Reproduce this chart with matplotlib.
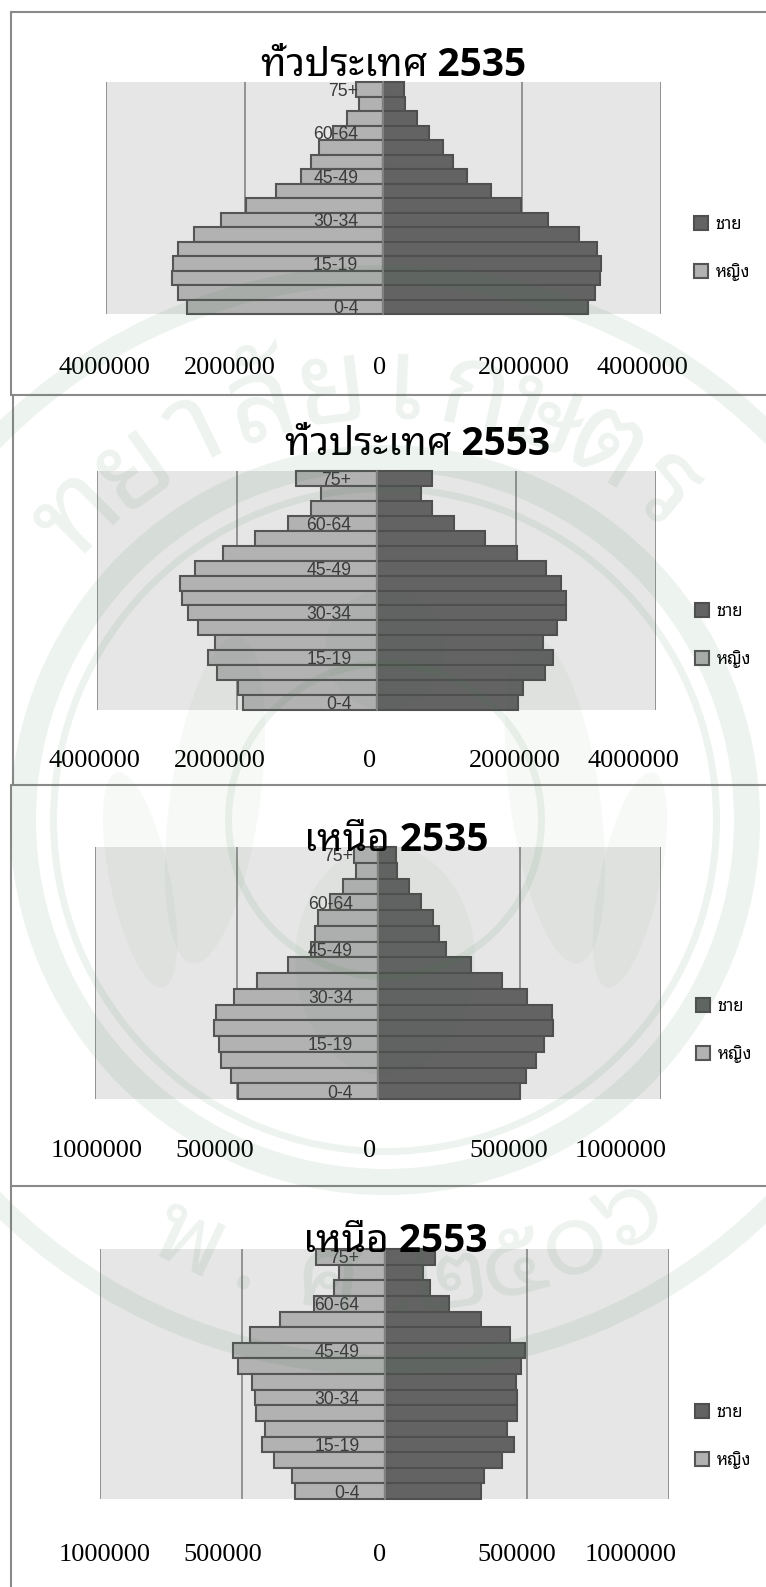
import numpy as np
import matplotlib
matplotlib.use('Agg')
import matplotlib.pyplot as plt
from matplotlib.patches import Wedge, Ellipse

W, H = 766, 1587

ages = ['75+', '70-74', '65-69', '60-64', '55-59', '50-54', '45-49', '40-44',
        '35-39', '30-34', '25-29', '20-24', '15-19', '10-14', '5-9', '0-4']
age_ticks = ['75+', '60-64', '45-49', '30-34', '15-19', '0-4']

th35_f = [395000, 353000, 522000, 720000, 924000, 1037000, 1192000, 1545000,
          1975000, 2335000, 2730000, 2963000, 3034000, 3048000, 2963000, 2829000]
th35_m = [296000, 310000, 480000, 663000, 861000, 1009000, 1206000, 1552000,
          1982000, 2370000, 2822000, 3083000, 3139000, 3132000, 3062000, 2956000]
th53_f = [1154000, 797000, 937000, 1266000, 1741000, 2203000, 2594000, 2811000,
          2783000, 2699000, 2552000, 2308000, 2406000, 2280000, 1979000, 1916000]
th53_m = [790000, 636000, 790000, 1105000, 1552000, 2014000, 2420000, 2643000,
          2713000, 2706000, 2587000, 2385000, 2531000, 2413000, 2098000, 2028000]
n35_f = [84600, 79400, 122600, 171000, 212400, 221000, 238300, 319500,
         428300, 507700, 571600, 580300, 561300, 556100, 518100, 493900]
n35_m = [63900, 67400, 110500, 153700, 195200, 214100, 241800, 328100,
         436900, 526700, 613100, 618300, 585500, 557800, 523300, 502600]
n53_f = [240500, 159800, 178700, 247400, 365900, 474200, 530900, 515400,
         467300, 455300, 450100, 419200, 431200, 388300, 326400, 314400]
n53_m = [177000, 135700, 161500, 225100, 340200, 441500, 493100, 481000,
         463900, 465600, 465600, 431200, 453600, 412300, 350500, 338400]

titles = ['ทั่วประเทศ 2535', 'ทั่วประเทศ 2553', 'เหนือ 2535', 'เหนือ 2553']
xlabels_big = ['4000000', '2000000', '0', '2000000', '4000000']
xlabels_small = ['1000000', '500000', '0', '500000', '1000000']

seal_top = ['ท', 'ย', 'า', 'ลั', 'ย', 'เ', 'ก', 'ษ', 'ต', 'ร']
seal_bottom = ['พ', '.', 'ศ', '.', '๒', '๕', '๐', '๖']

plt.rcParams['font.family'] = ['Open Sans', 'Noto Sans Thai Looped', 'DejaVu Sans']

fig = plt.figure(figsize=(W / 100, H / 100), dpi=100, facecolor='white')


def fx(x):
    return x / W


def fy(y):
    return 1 - y / H


def pyramid(box, xmax, female, male, labels, label_x, label_y, title, title_x, title_y, legend_x, legend_y):
    x0, x1, y0, y1 = box
    ax = fig.add_axes([fx(x0), fy(y1), (x1 - x0) / W, (y1 - y0) / H], facecolor='#e6e6e6')
    y = np.arange(len(ages))
    ax.barh(y, [-v for v in female], height=1, color='#b2b2b2', edgecolor='#555555', linewidth=1.5,
            label='หญิง', zorder=2, clip_on=False)
    ax.barh(y, male, height=1, color='#636363', edgecolor='#4f4f4f', linewidth=1.5,
            label='ชาย', zorder=2, clip_on=False)
    ax.set_xlim(-xmax, xmax)
    ax.set_ylim(len(ages) - 0.5, -0.5)
    ax.set_xticks([-xmax, -xmax / 2, xmax / 2, xmax])
    ax.tick_params(axis='x', length=0, labelbottom=False)
    ax.grid(axis='x', color='#8c8c8c', linewidth=1.3, zorder=1)
    ax.set_axisbelow(True)
    ax.yaxis.set_zorder(3)
    for s in ['top', 'right', 'bottom']:
        ax.spines[s].set_visible(False)
    ax.spines['left'].set_position('zero')
    ax.spines['left'].set_color('#8a8a8a')
    ax.spines['left'].set_linewidth(1.2)
    ax.spines['left'].set_zorder(3)
    ticks = [ages.index(a) for a in age_ticks]
    ax.set_yticks(ticks, age_ticks, family='Liberation Sans', fontsize=12.7, color='#3a3a3a')
    ax.tick_params(axis='y', length=0, pad=18)

    for lab, lx in zip(labels, label_x):
        fig.text(fx(lx), fy(label_y), lab, ha='center', va='center', family='Liberation Serif',
                 fontsize=18.9, color='black')
    fig.text(fx(title_x), fy(title_y), title, ha='center', va='baseline', fontweight='bold',
             fontsize=28, color='black', zorder=5)
    handles, names = ax.get_legend_handles_labels()
    fig.legend(handles[::-1], names[::-1], loc='upper left', bbox_to_anchor=(fx(legend_x), fy(legend_y)),
               frameon=False, fontsize=12, handlelength=0.85, handleheight=0.9, handletextpad=0.45,
               labelspacing=1.8, borderpad=0, borderaxespad=0)


pyramid((106, 660.5, 82, 314), 4000000, th35_f, th35_m, xlabels_big, [104.5, 229.6, 379.6, 523.7, 642.9], 367.7,
        titles[0], 394, 76, 694, 216)
pyramid((97, 656, 471, 710), 4000000, th53_f, th53_m, xlabels_big, [94.8, 220, 370, 515, 633.8], 760.7,
        titles[1], 418, 455, 695, 603)
pyramid((95, 661, 847, 1099), 1000000, n35_f, n35_m, xlabels_small, [96.5, 214.5, 370, 508.5, 621], 1150.7,
        titles[2], 396, 851, 696, 998)
pyramid((100, 669, 1249, 1499), 1000000, n53_f, n53_m, xlabels_small, [105, 223, 379.6, 517, 631], 1555,
        titles[3], 395, 1252, 695, 1404)

# panel frames
frame = '#8a8a8a'
for yy in [12, 395, 785, 1186]:
    fig.add_artist(plt.Line2D([fx(11.5), 1], [fy(yy), fy(yy)], color=frame, linewidth=1.5))
for xx, a, b in [(11, 12, 395), (13, 395, 785), (11, 785, 1186), (11, 1186, 1587)]:
    fig.add_artist(plt.Line2D([fx(xx), fx(xx)], [fy(a), fy(b)], color=frame, linewidth=1.5))

# faint university seal over the whole page
seal = fig.add_axes([0, 0, 1, 1], facecolor='none', zorder=10)
seal.set_xlim(0, W)
seal.set_ylim(H, 0)
seal.axis('off')
cx, cy = 385, 820
green = '#3f7a4c'
for r_out, wd in [(555, 20), (375, 26), (335, 7), (160, 7)]:
    seal.add_patch(Wedge((cx, cy), r_out, 0, 360, width=wd, facecolor=green, edgecolor='none', alpha=0.09))
for ex, ey, ew, eh, ang in [(215, 800, 90, 330, 8), (555, 800, 90, 330, -8),
                            (140, 880, 60, 220, -12), (630, 880, 60, 220, 12),
                            (385, 650, 120, 120, 0), (385, 960, 180, 230, 0)]:
    seal.add_patch(Ellipse((ex, ey), ew, eh, angle=ang, facecolor=green, edgecolor='none', alpha=0.04))

for i, ch in enumerate(seal_top):
    deg = 135 - 9.5 * i
    ang = np.deg2rad(deg)
    seal.text(cx + 432 * np.cos(ang), cy - 432 * np.sin(ang), ch, rotation=deg - 90,
              rotation_mode='anchor', ha='center', va='center', fontsize=84, color=green, alpha=0.09,
              family=['Noto Sans Thai Looped', 'DejaVu Sans'])
for ch, deg in zip(seal_bottom, [-115, -107, -97, -88, -82, -74, -66, -58]):
    ang = np.deg2rad(deg)
    seal.text(cx + 465 * np.cos(ang), cy - 465 * np.sin(ang), ch, rotation=deg + 90,
              rotation_mode='anchor', ha='center', va='center', fontsize=72, color=green, alpha=0.09,
              family=['Noto Sans Thai Looped', 'DejaVu Sans'])

fig.savefig('out.png', dpi=100)
